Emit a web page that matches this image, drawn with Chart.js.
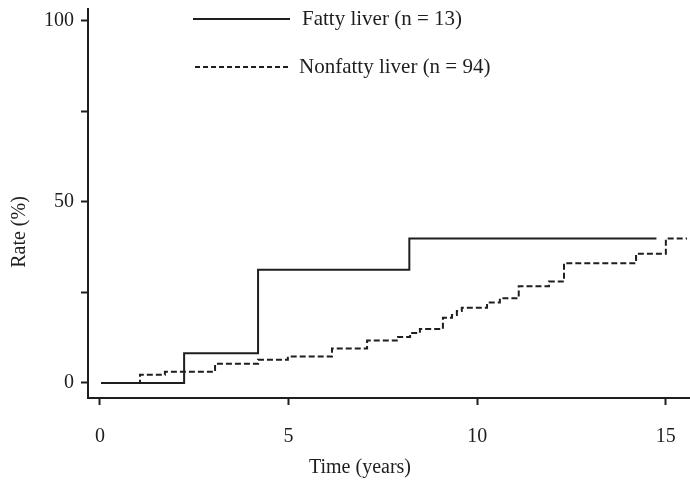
<!DOCTYPE html>
<html>
<head>
<meta charset="utf-8">
<script src="https://cdn.jsdelivr.net/npm/chart.js@4.4.1/dist/chart.umd.min.js"></script>
<style>
  html, body { margin: 0; padding: 0; background: #ffffff; }
  #wrap { width: 690px; height: 486px; }
</style>
</head>
<body>
<div id="wrap"><canvas id="c" width="690" height="486"></canvas></div>
<script>
// ---- data ----
const seriesNames = ['Fatty liver (n = 13)', 'Nonfatty liver (n = 94)'];
const fattyTimes = [0.03, 2.23, 4.19, 8.20, 14.75];
const fattyRates = [0, 8.2, 31.3, 39.9, 39.9];
const nonfattyTimes = [0.03, 1.06, 1.72, 3.05, 4.19, 4.98, 6.15, 7.08, 7.90, 8.22, 8.48, 9.09, 9.33, 9.46, 9.59, 10.26, 10.60, 11.10, 11.90, 12.30, 14.21, 15.00, 15.56];
const nonfattyRates = [0, 2.3, 3.1, 5.3, 6.4, 7.3, 9.5, 11.7, 12.7, 13.8, 14.9, 18.0, 18.8, 19.9, 20.8, 22.2, 23.4, 26.7, 28.0, 33.1, 35.7, 39.9, 39.9];
const xTickValues = [0, 5, 10, 15];
const yTickValues = [0, 25, 50, 75, 100];
const yTickLabels = ['0', '', '50', '', '100'];
const xTitle = 'Time (years)';
const yTitle = 'Rate (%)';

const FONT = '"Liberation Serif", "Times New Roman", serif';
const INK = '#1e1e1e';

function toPoints(xs, ys) { return xs.map((x, i) => ({ x: x, y: ys[i] })); }

const overlay = {
  id: 'overlay',
  afterDraw(chart) {
    const ctx = chart.ctx;
    ctx.save();
    ctx.fillStyle = INK;
    ctx.strokeStyle = INK;
    ctx.textBaseline = 'middle';
    // legend
    ctx.font = '21px ' + FONT;
    const ds = chart.data.datasets;
    const rows = [{ y: 19, x0: 193, x1: 290, tx: 302 }, { y: 67, x0: 195, x1: 290, tx: 299 }];
    rows.forEach((r, i) => {
      ctx.lineWidth = 2;
      ctx.setLineDash(i === 0 ? [] : [5, 3]);
      ctx.beginPath();
      ctx.moveTo(r.x0, r.y);
      ctx.lineTo(r.x1, r.y);
      ctx.stroke();
      ctx.setLineDash([]);
      ctx.textAlign = 'left';
      ctx.fillText(ds[i].label, r.tx, r.y);
    });
    // axis titles
    ctx.font = '20px ' + FONT;
    ctx.textAlign = 'center';
    ctx.fillText(xTitle, 360, 468);
    ctx.translate(20, 232);
    ctx.rotate(-Math.PI / 2);
    ctx.fillText(yTitle, 0, 0);
    ctx.restore();
  }
};

new Chart(document.getElementById('c'), {
  type: 'line',
  data: {
    datasets: [
      {
        label: seriesNames[0],
        data: toPoints(fattyTimes, fattyRates),
        borderColor: INK,
        borderWidth: 2,
        stepped: 'before',
        pointRadius: 0,
        fill: false,
        order: 0
      },
      {
        label: seriesNames[1],
        data: toPoints(nonfattyTimes, nonfattyRates),
        borderColor: INK,
        borderWidth: 2,
        borderDash: [6, 3],
        stepped: 'before',
        pointRadius: 0,
        fill: false,
        order: 1
      }
    ]
  },
  options: {
    responsive: false,
    animation: false,
    devicePixelRatio: 1,
    layout: { padding: { top: 9, right: 0, left: 0, bottom: 0 } },
    plugins: { legend: { display: false }, tooltip: { enabled: false } },
    scales: {
      x: {
        type: 'linear',
        min: -0.318,
        max: 15.64,
        afterBuildTicks: (s) => { s.ticks = xTickValues.map(v => ({ value: v })); },
        afterFit: (s) => { s.height = 88; s.paddingLeft = 0; s.paddingRight = 0; },
        ticks: {
          color: INK,
          font: { family: FONT, size: 20 },
          padding: 20,
          maxRotation: 0,
          callback: (v) => String(v)
        },
        grid: { display: true, drawOnChartArea: false, drawTicks: true, tickLength: 7, tickColor: INK, tickWidth: 2 },
        border: { display: true, color: INK, width: 2 }
      },
      y: {
        type: 'linear',
        min: -4.15,
        max: 103.3,
        afterBuildTicks: (s) => { s.ticks = yTickValues.map(v => ({ value: v })); },
        afterFit: (s) => { s.width = 88; s.paddingTop = 0; s.paddingBottom = 0; },
        ticks: {
          color: INK,
          font: { family: FONT, size: 20 },
          padding: 7,
          callback: (v) => { const i = yTickValues.indexOf(v); return i >= 0 ? yTickLabels[i] : ''; }
        },
        grid: { display: true, drawOnChartArea: false, drawTicks: true, tickLength: 7, tickColor: INK, tickWidth: 2 },
        border: { display: true, color: INK, width: 2 }
      }
    }
  },
  plugins: [overlay]
});
</script>
</body>
</html>
